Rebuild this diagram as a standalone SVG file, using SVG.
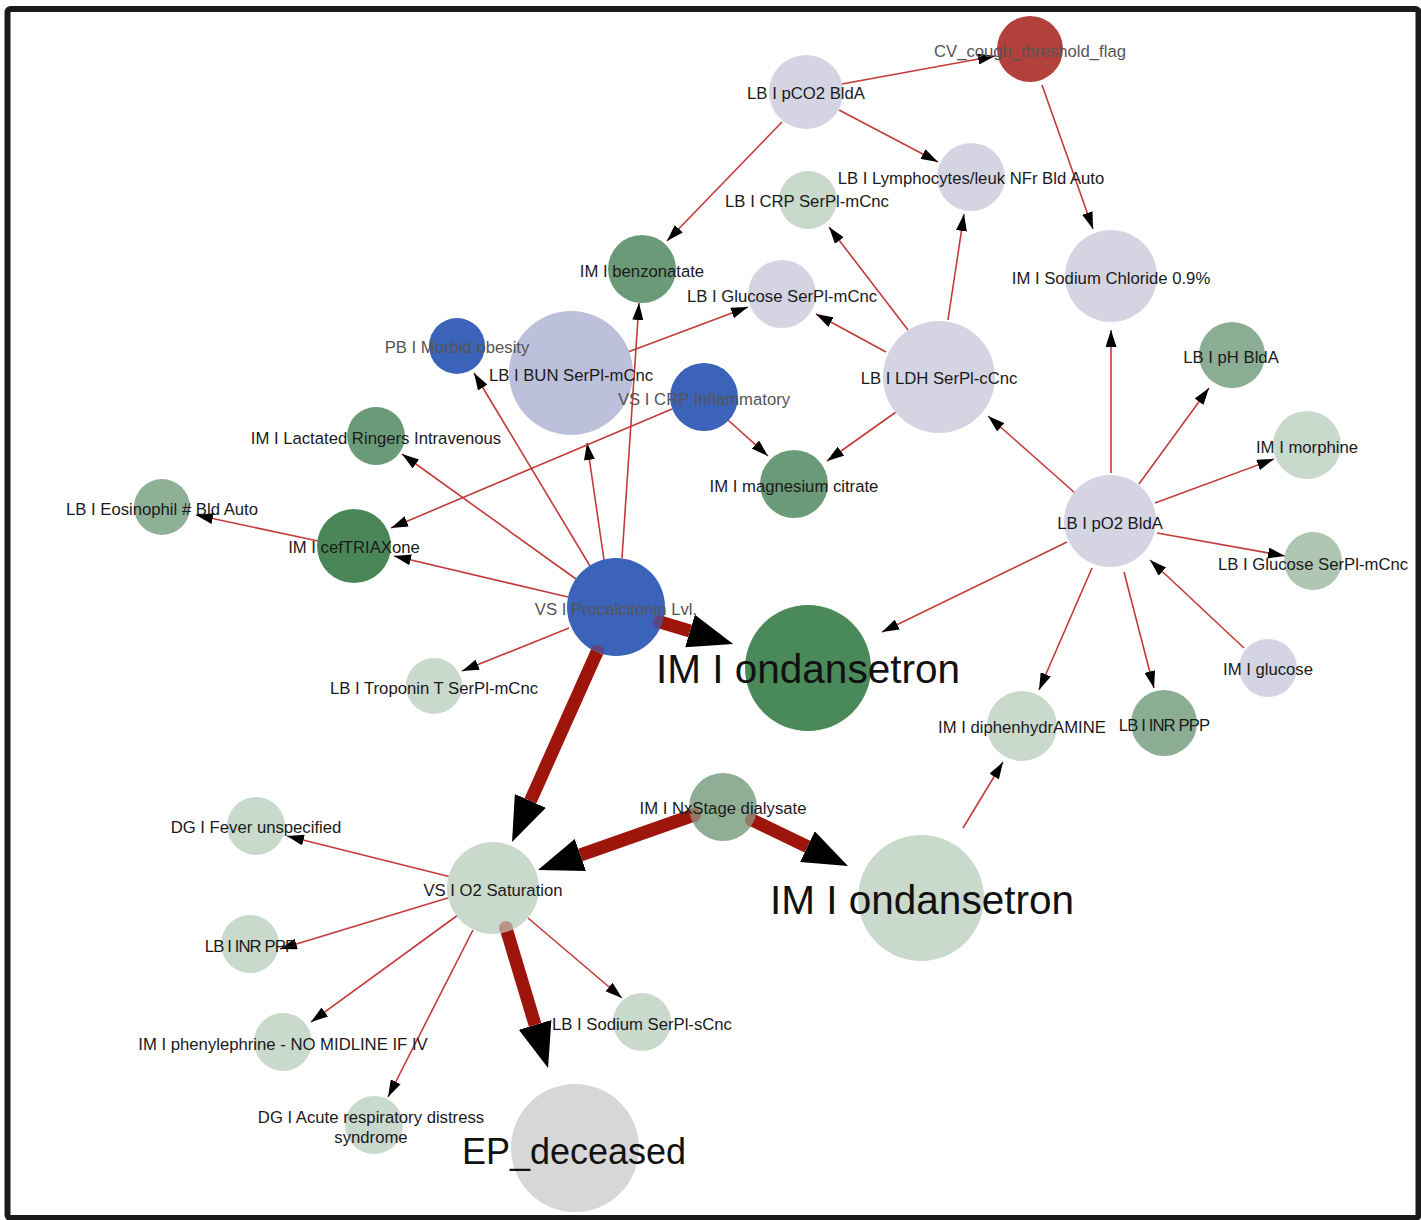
<svg xmlns="http://www.w3.org/2000/svg" width="1421" height="1220" viewBox="0 0 1421 1220">
<defs>
<style>
.lbl{font-family:"Liberation Sans",Arial,sans-serif;font-size:16.7px;fill:#1a1a1a;text-anchor:middle}
.gry{fill:#555}
.big{font-size:40.5px;fill:#111}
.ep{font-size:36px;fill:#111}
.e{stroke:#c43a3a;stroke-width:1.6;fill:none;marker-end:url(#ah)}
.t{stroke:#9e150c;stroke-width:13;fill:none;marker-end:url(#ahb)}
.lav{fill:#d4d4e3}
.bun{fill:#bcc0da}
.lg{fill:#c9d9cc}
.mg{fill:#6a9a77}
.pg{fill:#8aad93}
.dg{fill:#4a8658}
.bl{fill:#3b63b9}
</style>
<marker id="ah" markerUnits="userSpaceOnUse" viewBox="0 0 17 11" markerWidth="17" markerHeight="11" refX="17" refY="5.5" orient="auto"><path d="M0,0 L17,5.5 L0,11 z" fill="#000"/></marker>
<marker id="ahb" markerUnits="userSpaceOnUse" viewBox="0 0 45 34" markerWidth="45" markerHeight="34" refX="0" refY="17" orient="auto"><path d="M0,0 L45,17 L0,34 z" fill="#000"/></marker>
</defs>
<rect x="0" y="0" width="1421" height="1220" fill="#fff"/>
<rect x="7.5" y="9" width="1411" height="1209" rx="3" fill="none" stroke="#1a1a1a" stroke-width="6"/>

<g id="connectors">
<line class="e" x1="842" y1="84" x2="995" y2="56"/>
<line class="e" x1="839" y1="110" x2="938" y2="162"/>
<line class="e" x1="782" y1="122" x2="667" y2="241"/>
<line class="e" x1="1042" y1="85" x2="1093" y2="229"/>
<line class="e" x1="948" y1="320" x2="964" y2="214"/>
<line class="e" x1="908" y1="330" x2="829" y2="227"/>
<line class="e" x1="886" y1="352" x2="816" y2="314"/>
<line class="e" x1="896" y1="412" x2="827" y2="461"/>
<line class="e" x1="1075" y1="493" x2="988" y2="416"/>
<line class="e" x1="1111" y1="473" x2="1111" y2="330"/>
<line class="e" x1="1139" y1="484" x2="1209" y2="388"/>
<line class="e" x1="1155" y1="503" x2="1274" y2="459"/>
<line class="e" x1="1157" y1="533" x2="1285" y2="556"/>
<line class="e" x1="1067" y1="542" x2="882" y2="632"/>
<line class="e" x1="1092" y1="568" x2="1039" y2="690"/>
<line class="e" x1="1124" y1="572" x2="1154" y2="688"/>
<line class="e" x1="1244" y1="648" x2="1150" y2="560"/>
<line class="e" x1="963" y1="828" x2="1003" y2="762"/>
<line class="e" x1="628" y1="352" x2="748" y2="307"/>
<line class="e" x1="622" y1="558" x2="639" y2="303"/>
<line class="e" x1="604" y1="560" x2="587" y2="443"/>
<line class="e" x1="590" y1="566" x2="474" y2="373"/>
<line class="e" x1="576" y1="579" x2="402" y2="454"/>
<line class="e" x1="568" y1="597" x2="394" y2="556"/>
<line class="e" x1="569" y1="628" x2="462" y2="671"/>
<line class="e" x1="672" y1="409" x2="391" y2="528"/>
<line class="e" x1="728" y1="420" x2="768" y2="456"/>
<line class="e" x1="318" y1="541" x2="196" y2="515"/>
<line class="e" x1="451" y1="877" x2="287" y2="836"/>
<line class="e" x1="451" y1="897" x2="280" y2="949"/>
<line class="e" x1="458" y1="915" x2="311" y2="1022"/>
<line class="e" x1="473" y1="930" x2="388" y2="1097"/>
<line class="e" x1="528" y1="918" x2="622" y2="998"/>
<line class="t" x1="660" y1="622" x2="690" y2="631"/>
<line class="t" x1="597" y1="652" x2="530.4" y2="800.9"/>
<line class="t" x1="694" y1="815" x2="580.4" y2="855"/>
<line class="t" x1="752" y1="820" x2="807.4" y2="846.6"/>
<line class="t" x1="506" y1="928" x2="535.1" y2="1024.9"/>
</g>

<g id="n-cv"><circle cx="1030" cy="49" r="33" fill="#b2403b"/></g>
<g id="n-pco2"><circle class="lav" cx="806" cy="92" r="37"/></g>
<g id="n-lymph"><circle class="lav" cx="971" cy="177" r="34"/></g>
<g id="n-crp-serpl"><circle class="lg" cx="808" cy="200" r="29"/></g>
<g id="n-nacl"><circle class="lav" cx="1111" cy="276" r="46"/></g>
<g id="n-benzonatate"><circle class="mg" cx="642" cy="269" r="34"/></g>
<g id="n-glucose-up"><circle class="lav" cx="782" cy="294" r="34"/></g>
<g id="n-obesity"><circle class="bl" cx="457" cy="346" r="28"/></g>
<g id="n-bun"><circle class="bun" cx="571" cy="373" r="62"/></g>
<g id="n-crp-infl"><circle class="bl" cx="704" cy="397" r="34"/></g>
<g id="n-ldh"><circle class="lav" cx="939" cy="377" r="56"/></g>
<g id="n-lactated"><circle class="mg" cx="376" cy="436" r="29"/></g>
<g id="n-magnesium"><circle class="mg" cx="794" cy="484" r="34"/></g>
<g id="n-ph"><circle class="pg" cx="1232" cy="355" r="33"/></g>
<g id="n-morphine"><circle class="lg" cx="1307" cy="445" r="34"/></g>
<g id="n-po2"><circle class="lav" cx="1110" cy="521" r="46"/></g>
<g id="n-eosinophil"><circle fill="#8db097" cx="162" cy="507" r="28"/></g>
<g id="n-ceftriaxone"><circle class="dg" cx="354" cy="546" r="37"/></g>
<g id="n-procalcitonin"><circle class="bl" cx="616" cy="607" r="49"/></g>
<g id="n-ondansetron-up"><circle fill="#4a8a5a" cx="808" cy="668" r="63"/></g>
<g id="n-glucose-right"><circle fill="#afc6b3" cx="1313" cy="561" r="29"/></g>
<g id="n-im-glucose"><circle class="lav" cx="1268" cy="668" r="29"/></g>
<g id="n-troponin"><circle class="lg" cx="434" cy="686" r="28"/></g>
<g id="n-diphenhydramine"><circle class="lg" cx="1022" cy="726" r="35"/></g>
<g id="n-inr-right"><circle class="pg" cx="1164" cy="723" r="33"/></g>
<g id="n-nxstage"><circle fill="#8fae95" cx="723" cy="807" r="34"/></g>
<g id="n-ondansetron-low"><circle class="lg" cx="921" cy="898" r="63"/></g>
<g id="n-fever"><circle class="lg" cx="256" cy="826" r="29"/></g>
<g id="n-o2"><circle class="lg" cx="493" cy="888" r="46"/></g>
<g id="n-inr-left"><circle class="lg" cx="250" cy="944" r="29"/></g>
<g id="n-sodium"><circle class="lg" cx="642" cy="1022" r="29"/></g>
<g id="n-phenylephrine"><circle class="lg" cx="283" cy="1042" r="29"/></g>
<g id="n-ards"><circle class="lg" cx="374" cy="1125" r="29"/></g>
<g id="n-deceased"><circle fill="#d7d7d7" cx="575" cy="1148" r="64"/></g>

<g id="edge-caps" fill="#9e150c" fill-opacity="0.35">
<circle cx="660" cy="622" r="7"/>
<circle cx="597" cy="652" r="7"/>
<circle cx="694" cy="815" r="7"/>
<circle cx="752" cy="820" r="7"/>
<circle cx="506" cy="928" r="7"/>
</g>

<g id="labels">
<text class="lbl gry" x="1030" y="57">CV_cough_threshold_flag</text>
<text class="lbl" x="806" y="99">LB I pCO2 BldA</text>
<text class="lbl" x="971" y="184">LB I Lymphocytes/leuk NFr Bld Auto</text>
<text class="lbl" x="807" y="207">LB I CRP SerPl-mCnc</text>
<text class="lbl" x="1111" y="284">IM I Sodium Chloride 0.9%</text>
<text class="lbl" x="642" y="277">IM I benzonatate</text>
<text class="lbl" x="782" y="302">LB I Glucose SerPl-mCnc</text>
<text class="lbl gry" x="457" y="353">PB I Morbid obesity</text>
<text class="lbl" x="571" y="381">LB I BUN SerPl-mCnc</text>
<text class="lbl gry" x="704" y="405">VS I CRP Inflammatory</text>
<text class="lbl" x="939" y="384">LB I LDH SerPl-cCnc</text>
<text class="lbl" x="376" y="444">IM I Lactated Ringers Intravenous</text>
<text class="lbl" x="794" y="492">IM I magnesium citrate</text>
<text class="lbl" x="1231" y="363">LB I pH BldA</text>
<text class="lbl" x="1307" y="453">IM I morphine</text>
<text class="lbl" x="1110" y="529">LB I pO2 BldA</text>
<text class="lbl" x="162" y="515">LB I Eosinophil # Bld Auto</text>
<text class="lbl" x="354" y="553">IM I cefTRIAXone</text>
<text class="lbl gry" x="616" y="615">VS I Procalcitonin Lvl.</text>
<text class="lbl big" x="808" y="683">IM I ondansetron</text>
<text class="lbl" x="1313" y="570">LB I Glucose SerPl-mCnc</text>
<text class="lbl" x="1268" y="675">IM I glucose</text>
<text class="lbl" x="434" y="694">LB I Troponin T SerPl-mCnc</text>
<text class="lbl" x="1022" y="733">IM I diphenhydrAMINE</text>
<text class="lbl" x="1164" y="731" letter-spacing="-0.9">LB I INR PPP</text>
<text class="lbl" x="723" y="814">IM I NxStage dialysate</text>
<text class="lbl big" x="922" y="914">IM I ondansetron</text>
<text class="lbl" x="256" y="833">DG I Fever unspecified</text>
<text class="lbl" x="493" y="896">VS I O2 Saturation</text>
<text class="lbl" x="250" y="952" letter-spacing="-0.9">LB I INR PPP</text>
<text class="lbl" x="642" y="1030">LB I Sodium SerPl-sCnc</text>
<text class="lbl" x="283" y="1050">IM I phenylephrine - NO MIDLINE IF IV</text>
<text class="lbl" x="371" y="1123">DG I Acute respiratory distress</text>
<text class="lbl" x="371" y="1143">syndrome</text>
<text class="lbl ep" x="574" y="1164">EP_deceased</text>
</g>
</svg>
